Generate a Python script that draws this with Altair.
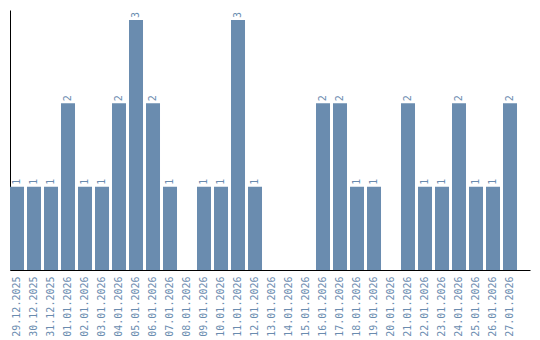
import altair as alt
import pandas as pd

dates = ["29.12.2025", "30.12.2025", "31.12.2025", "01.01.2026", "02.01.2026",
         "03.01.2026", "04.01.2026", "05.01.2026", "06.01.2026", "07.01.2026",
         "08.01.2026", "09.01.2026", "10.01.2026", "11.01.2026", "12.01.2026",
         "13.01.2026", "14.01.2026", "15.01.2026", "16.01.2026", "17.01.2026",
         "18.01.2026", "19.01.2026", "20.01.2026", "21.01.2026", "22.01.2026",
         "23.01.2026", "24.01.2026", "25.01.2026", "26.01.2026", "27.01.2026"]
counts = [1, 1, 1, 2, 1, 1, 2, 3, 2, 1,
          0, 1, 1, 3, 1, 0, 0, 0, 2, 2,
          1, 1, 0, 2, 1, 1, 2, 1, 1, 2]

df = pd.DataFrame({"date": dates, "count": counts})
df["label"] = df["count"].apply(lambda v: str(v) if v > 0 else "")

color = "#6a8caf"
font = "DejaVu Sans Mono"

x = alt.X("date:N", sort=dates, title=None,
          scale=alt.Scale(paddingInner=0.176, paddingOuter=0.382, align=0),
          axis=alt.Axis(labelAngle=-90, labelFontSize=10, labelFont=font,
                        labelColor=color, ticks=False, domainColor="black",
                        labelPadding=6, labelAlign="right", labelBaseline="middle"))
y = alt.Y("count:Q", title=None, scale=alt.Scale(domain=[0, 3.12], nice=False),
          axis=alt.Axis(labels=False, ticks=False, grid=False, domainColor="black", title=None))

bars = alt.Chart(df).mark_bar(color=color).encode(x=x, y=y)
text = alt.Chart(df).mark_text(angle=270, align="left", baseline="middle", dx=2,
                               fontSize=10, font=font, color=color).encode(
    x=alt.X("date:N", sort=dates), y="count:Q", text="label:N")

chart = (bars + text).properties(
    width=520, height=260,
    autosize=alt.AutoSizeParams(type="none"),
    padding={"left": 10, "top": 10, "right": 10, "bottom": 70},
).configure_view(stroke=None).configure_axis(domainWidth=1)

chart.save("out.html", embed_options={"renderer": "svg", "actions": False})
